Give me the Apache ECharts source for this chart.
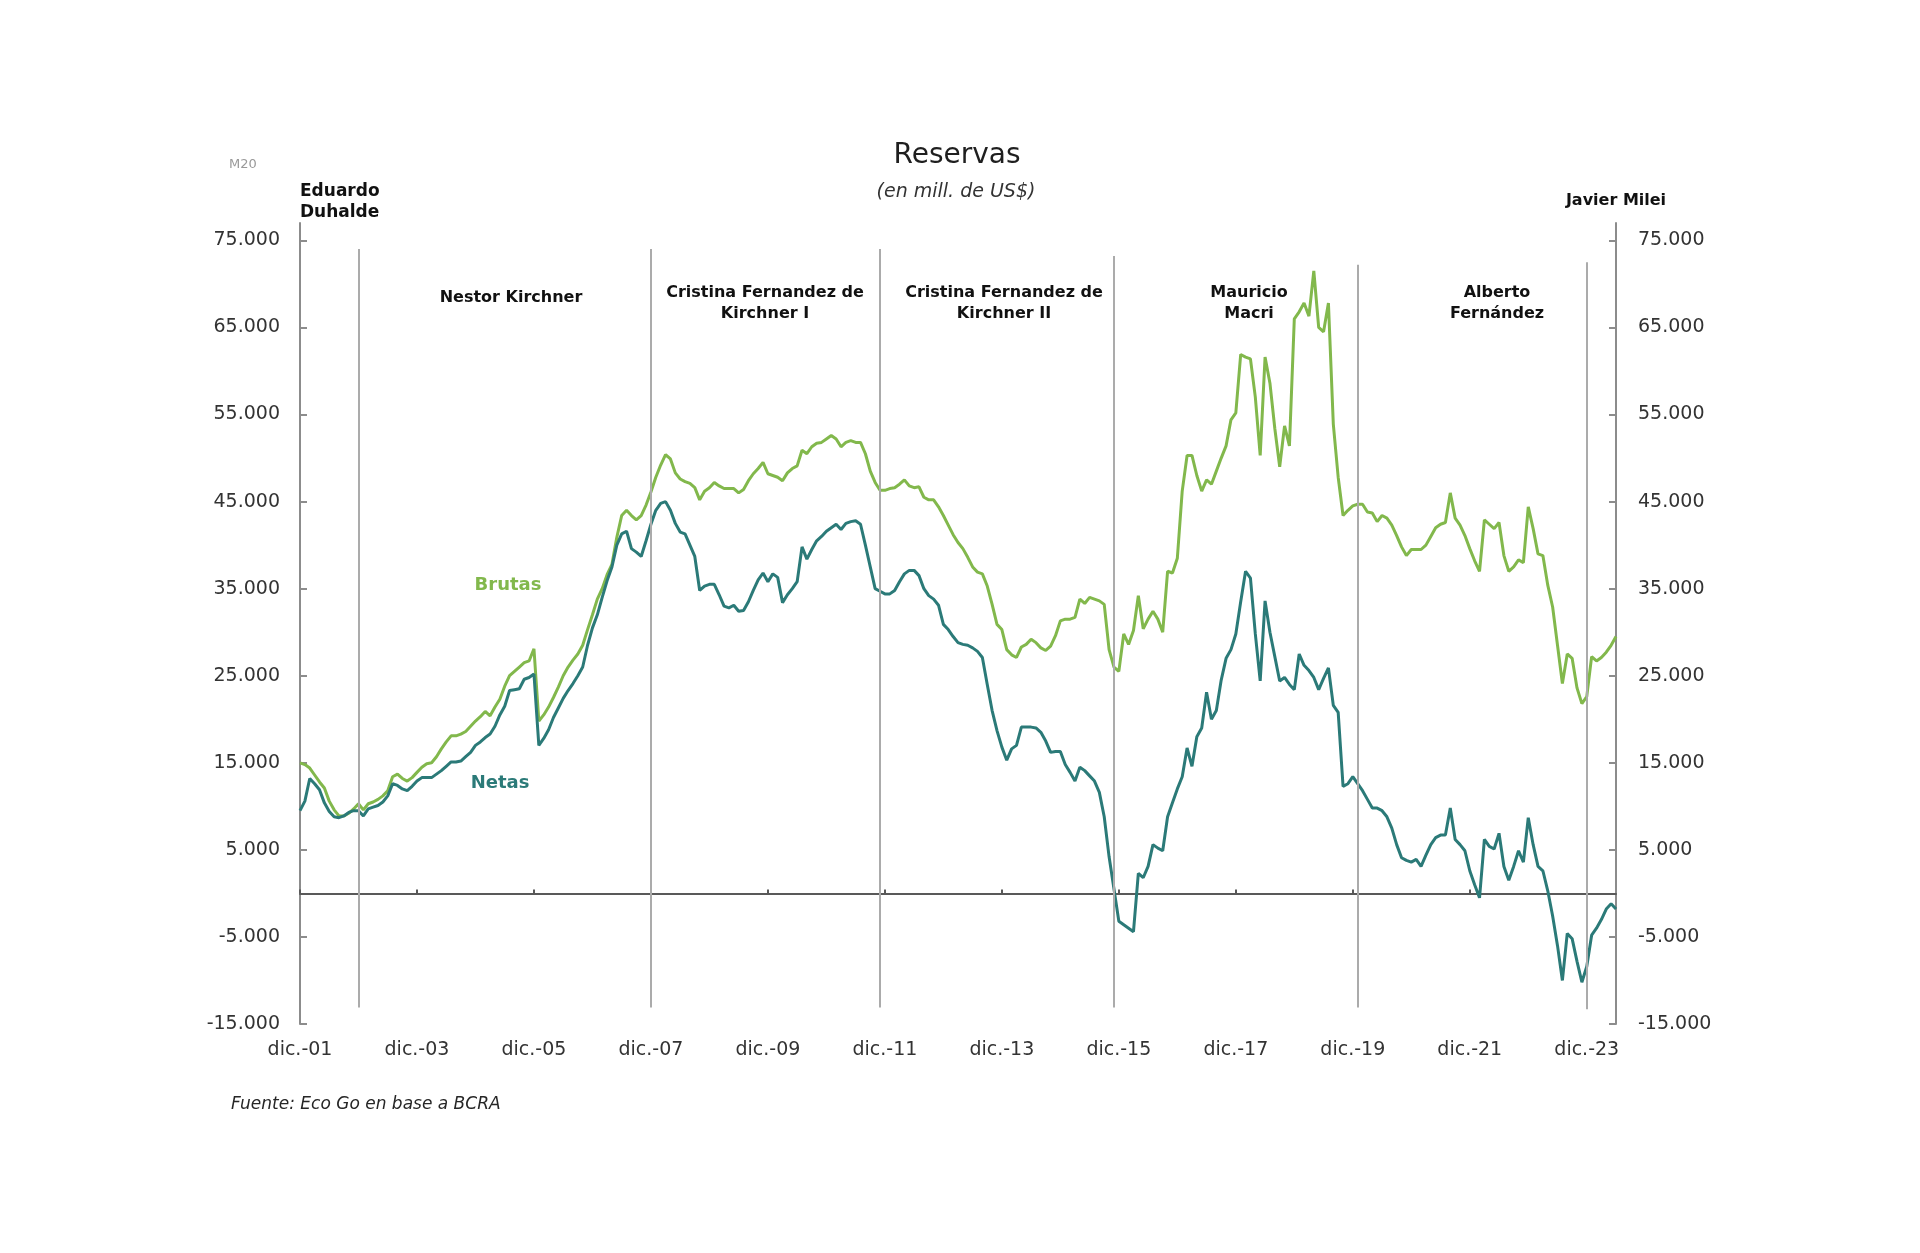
<!DOCTYPE html>
<html>
<head>
<meta charset="utf-8">
<script src="https://cdn.jsdelivr.net/npm/echarts@6/dist/echarts.min.js"></script>
<style>
html,body{margin:0;padding:0;background:#fff;}
#chart{width:1920px;height:1253px;}
</style>
</head>
<body>
<div id="chart"></div>
<script>
// ---- DATA ----
const monthAbbr = ['ene.','feb.','mar.','abr.','may.','jun.','jul.','ago.','sep.','oct.','nov.','dic.'];
const startYear = 2001, startMonth = 11, nMonths = 271; // dic.-01 .. jun.-24
const months = [];
for (let k = 0; k < nMonths; k++) {
  const m = (startMonth + k) % 12;
  const y = startYear + Math.floor((startMonth + k) / 12);
  months.push(monthAbbr[m] + '-' + String(y % 100).padStart(2, '0'));
}

const brutas = [
15000,14800,14400,13600,12800,12100,10600,9600,8900,8900,9200,9700,
10300,9600,10300,10500,10800,11200,11800,13400,13700,13200,12900,13300,
13900,14500,14900,15000,15700,16600,17400,18100,18100,18300,18600,19200,
19800,20300,20900,20400,21400,22300,23800,25000,25500,26000,26500,26700,
28100,19800,20500,21400,22500,23700,25000,26000,26800,27500,28500,30300,
32000,33800,35000,36600,37800,40900,43400,44000,43400,42900,43400,44600,
46100,47800,49200,50400,49900,48300,47600,47300,47100,46600,45200,46200,
46600,47200,46800,46500,46500,46500,46000,46400,47400,48200,48800,49500,
48200,48000,47800,47400,48300,48800,49100,50900,50500,51300,51700,51800,
52200,52600,52200,51300,51800,52000,51800,51800,50500,48500,47200,46300,
46300,46500,46600,47000,47500,46800,46600,46700,45500,45200,45200,44400,
43400,42300,41200,40300,39600,38600,37500,36900,36700,35300,33200,30900,
30300,28000,27400,27100,28300,28600,29200,28800,28200,27900,28400,29600,
31300,31500,31500,31700,33800,33300,34000,33800,33600,33200,28000,26000,
25500,29800,28600,30200,34200,30400,31500,32400,31500,30000,37000,36800,
38500,46200,50300,50300,48000,46200,47500,47000,48500,50000,51400,54400,
55200,61900,61600,61400,57000,50300,61600,58600,53400,49000,53700,51400,
66000,66800,67800,66300,71500,65000,64500,67800,53900,47800,43400,44000,
44500,44700,44700,43800,43700,42700,43400,43100,42300,41100,39800,38800,
39500,39500,39500,40000,41000,42000,42400,42600,46000,43100,42300,41100,
39600,38200,37000,42900,42400,41900,42600,38800,37000,37500,38300,38000,
44400,41900,39000,38800,35400,32900,28500,24100,27500,27000,23600,21800,
22600,27200,26700,27100,27700,28500,29500
];

const netas = [
9500,10600,13200,12600,11900,10400,9400,8800,8700,8900,9300,9500,
9500,8900,9700,9900,10100,10500,11200,12600,12400,12000,11800,12300,
12900,13300,13300,13300,13700,14100,14600,15100,15100,15200,15700,16200,
17000,17400,17900,18300,19200,20500,21500,23300,23400,23500,24600,24800,
25200,17000,17800,18800,20200,21300,22400,23300,24100,25000,26000,28500,
30500,32000,34000,35900,37500,40000,41300,41600,39600,39200,38700,40500,
42400,44000,44800,45000,44000,42500,41500,41300,40000,38700,34800,35300,
35500,35500,34300,33000,32800,33100,32400,32500,33500,34800,36000,36800,
35800,36700,36300,33400,34300,35000,35800,39800,38400,39500,40500,41000,
41600,42000,42400,41800,42500,42700,42800,42400,40000,37500,35000,34700,
34400,34400,34800,35800,36700,37100,37100,36500,35000,34200,33800,33100,
30900,30300,29500,28800,28600,28500,28200,27800,27100,24000,21000,18700,
16800,15300,16600,17000,19100,19100,19100,19000,18500,17500,16200,16300,
16300,14800,13900,12900,14500,14100,13500,12900,11600,8800,4200,500,
-3200,-3600,-4000,-4400,2300,1800,3100,5600,5200,4900,8800,10400,
12000,13400,16700,14600,18000,19000,23100,20000,21000,24500,27000,28000,
29800,33500,37000,36200,29800,24400,33600,30000,27200,24400,24800,24000,
23400,27500,26200,25600,24800,23400,24700,25900,21600,20800,12300,12600,
13400,12600,11800,10800,9800,9800,9500,8800,7500,5600,4100,3800,
3600,3900,3100,4400,5600,6400,6700,6700,9800,6200,5600,4900,
2600,1000,-500,6200,5400,5100,6900,3100,1500,3100,4900,3600,
8700,5600,3100,2600,300,-2600,-6000,-10000,-4600,-5200,-7800,-10200,
-8400,-4800,-4000,-3000,-1800,-1200,-1800
];

const yTicks = [-15000,-5000,5000,15000,25000,35000,45000,55000,65000,75000];
const yMin = -15000, yMax = 77000;

// Government periods: boundaries (month index) and names
const periodLines = [
  {idx: 12, top: 74000, bottom: -13100},
  {idx: 72, top: 74000, bottom: -13100},
  {idx: 119, top: 74000, bottom: -13100},
  {idx: 167, top: 73200, bottom: -13100},
  {idx: 217, top: 72200, bottom: -13100},
  {idx: 264, top: 72500, bottom: -13300}
];
const periodNames = [
  'Nestor Kirchner',
  'Cristina Fernandez de\nKirchner I',
  'Cristina Fernandez de\nKirchner II',
  'Mauricio\nMacri',
  'Alberto\nFernández'
];

// ---- CHART ----
const FONT = '"DejaVu Sans", sans-serif';
function fmt(v) {
  const s = Math.abs(v).toString().replace(/\B(?=(\d{3})+(?!\d))/g, '.');
  return (v < 0 ? '-' : '') + s;
}
const chart = echarts.init(document.getElementById('chart'), null, {renderer: 'canvas'});

const GREEN = '#82b84c';
const TEAL = '#2b7a78';

function yAxisCfg(pos) {
  return {
    type: 'value', min: yMin, max: yMax, position: pos,
    axisLine: {show: true, lineStyle: {color: '#8c8c8c', width: 2}},
    axisTick: {show: true, inside: true, length: 7, customValues: yTicks, lineStyle: {color: '#8c8c8c', width: 2}},
    axisLabel: {customValues: yTicks, formatter: fmt, margin: pos === 'left' ? 20 : 22,
      color: '#333333', fontSize: 19, fontFamily: FONT},
    splitLine: {show: false}
  };
}

const periodTextPos = [
  [511, 298], [765, 303], [1004, 303], [1249, 303], [1497, 303]
];

const graphics = [
  {type: 'text', x: 957, y: 156, style: {text: 'Reservas', font: '28px ' + FONT, fill: '#1f1f1f', align: 'center', verticalAlign: 'middle'}},
  {type: 'text', x: 956, y: 192, style: {text: '(en mill. de US$)', font: 'italic 19px ' + FONT, fill: '#333', align: 'center', verticalAlign: 'middle'}},
  {type: 'text', x: 243, y: 165, style: {text: 'M20', font: '13px ' + FONT, fill: '#999', align: 'center', verticalAlign: 'middle'}},
  {type: 'text', x: 300, y: 202, style: {text: 'Eduardo\nDuhalde', font: 'bold 17px ' + FONT, lineHeight: 21, fill: '#111', align: 'left', verticalAlign: 'middle'}},
  {type: 'text', x: 1616, y: 201, style: {text: 'Javier Milei', font: 'bold 16px ' + FONT, fill: '#111', align: 'center', verticalAlign: 'middle'}},
  {type: 'text', x: 508, y: 585, style: {text: 'Brutas', font: 'bold 18px ' + FONT, fill: GREEN, align: 'center', verticalAlign: 'middle'}},
  {type: 'text', x: 500, y: 783, style: {text: 'Netas', font: 'bold 18px ' + FONT, fill: TEAL, align: 'center', verticalAlign: 'middle'}},
  {type: 'text', x: 231, y: 1105, style: {text: 'Fuente: Eco Go en base a BCRA', font: 'italic 17px ' + FONT, fill: '#262626', align: 'left', verticalAlign: 'middle'}}
];
periodNames.forEach((n, k) => {
  graphics.push({type: 'text', x: periodTextPos[k][0], y: periodTextPos[k][1],
    style: {text: n, font: 'bold 16px ' + FONT, lineHeight: 21, fill: '#111', align: 'center', verticalAlign: 'middle'}});
});

const option = {
  animation: false,
  backgroundColor: '#ffffff',
  grid: {left: 300, right: 304, top: 223, bottom: 229, containLabel: false},
  xAxis: {
    type: 'category', data: months, boundaryGap: false,
    axisLine: {show: true, onZero: true, lineStyle: {color: '#595959', width: 2}},
    axisTick: {show: true, inside: true, length: 4, interval: 23, lineStyle: {color: '#595959', width: 2}},
    axisLabel: {interval: 23, margin: 17, color: '#333333', fontSize: 19, fontFamily: FONT},
    splitLine: {show: false}
  },
  yAxis: [yAxisCfg('left'), yAxisCfg('right')],
  graphic: graphics,
  series: [
    {
      name: 'Brutas', type: 'line', data: brutas, showSymbol: false, yAxisIndex: 0,
      lineStyle: {color: GREEN, width: 3}, itemStyle: {color: GREEN}, z: 3,
      markLine: {
        silent: true, symbol: ['none', 'none'], label: {show: false},
        lineStyle: {color: '#ababab', width: 2, type: 'solid'},
        data: periodLines.map(p => [{coord: [p.idx, p.top]}, {coord: [p.idx, p.bottom]}])
      }
    },
    {
      name: 'Netas', type: 'line', data: netas, showSymbol: false, yAxisIndex: 0,
      lineStyle: {color: TEAL, width: 3}, itemStyle: {color: TEAL}, z: 4
    }
  ]
};
chart.setOption(option);
</script>
</body>
</html>
